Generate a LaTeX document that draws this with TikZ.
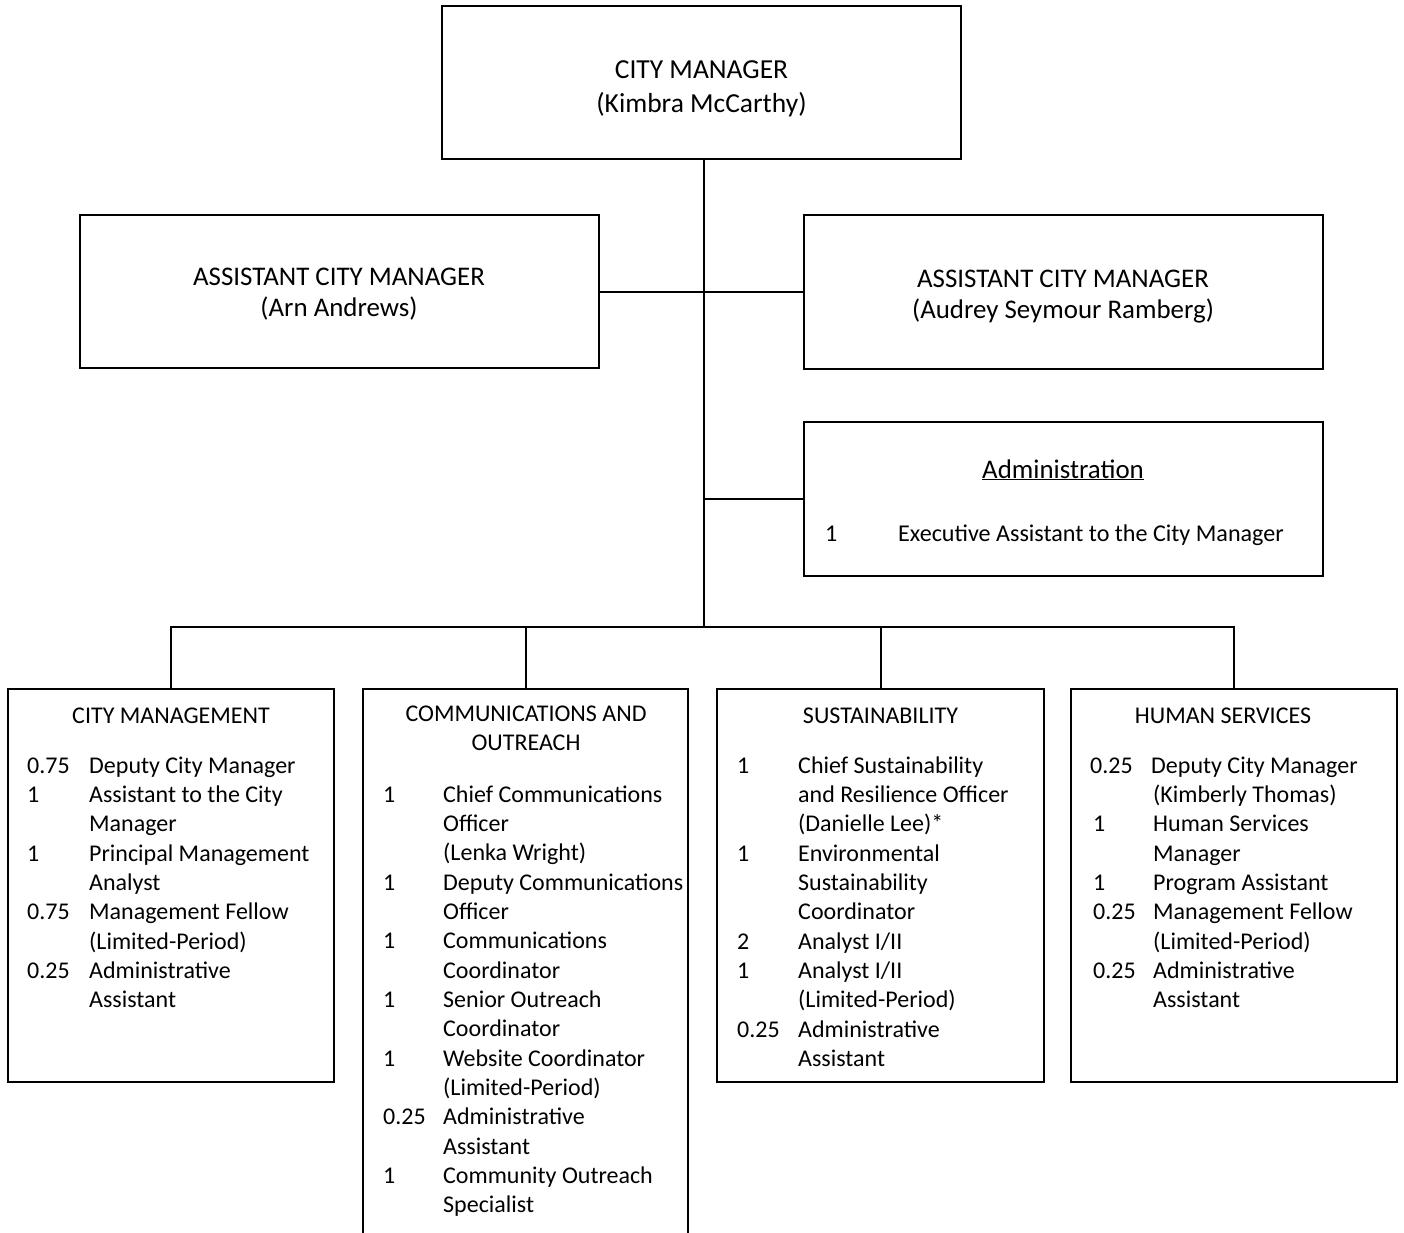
\documentclass[tikz,border=0pt]{standalone}
\usepackage{fontspec}
\setmainfont{Carlito}
\begin{document}
\begin{tikzpicture}[x=1pt,y=-1pt,
  box/.style={draw=black,line width=2pt,inner sep=0pt},
  conn/.style={draw=black,line width=2pt},
  big/.style={font=\fontsize{27.5}{34}\selectfont,inner sep=0pt,anchor=base},
  mid/.style={font=\fontsize{26.9}{32}\selectfont,inner sep=0pt,anchor=base},
  admrow/.style={font=\fontsize{24.1}{29.35}\selectfont,inner sep=0pt,anchor=base west},
  rowtxt/.style={font=\fontsize{24}{29.35}\selectfont,inner sep=0pt,anchor=base west},
  head/.style={font=\fontsize{24}{29.35}\selectfont,inner sep=0pt,anchor=base}]
\useasboundingbox (0,0) rectangle (1404,1232);
\newcommand\Row[6]{\node[rowtxt] (#1n) at (#2,#4) {#5};\node[rowtxt] (#1t) at (#3,#4) {#6};}
\newcommand\Cont[4]{\node[rowtxt] (#1) at (#2,#3) {#4};}
% boxes
\node[box,minimum width=519pt,minimum height=153pt] (cm) at (701.5,82.5) {};
\node[box,minimum width=519pt,minimum height=153pt] (acml) at (339.5,291) {};
\node[box,minimum width=519pt,minimum height=154pt] (acmr) at (1063.5,292) {};
\node[box,minimum width=519pt,minimum height=154pt] (adm) at (1063.5,499) {};
\node[box,minimum width=326pt,minimum height=393pt] (dcm) at (171,885.5) {};
\node[box,minimum width=325pt,minimum height=560pt] (dco) at (525.5,969) {};
\node[box,minimum width=327pt,minimum height=393pt] (dsu) at (880.5,885.5) {};
\node[box,minimum width=326pt,minimum height=393pt] (dhs) at (1234,885.5) {};
% connectors
\coordinate (jacm) at (704,292);
\coordinate (jadm) at (704,499);
\coordinate (bus) at (704,627);
\draw[conn] (cm.south -| jacm) -- (bus);
\draw[conn] (acml.east |- jacm) -- (acmr.west |- jacm);
\draw[conn] (jadm) -- (adm.west);
\draw[conn] (dcm.north) |- (bus) -| (dhs.north);
\draw[conn] (dco.north) -- (dco.north |- bus);
\draw[conn] (dsu.north) -- (dsu.north |- bus);
% top texts
\node[big] (cmt1) at (701.5,78) {CITY MANAGER};
\node[big] (cmt2) at (701.5,112) {(Kimbra McCarthy)};
\node[mid] (al1) at (339,285) {ASSISTANT CITY MANAGER};
\node[mid] (al2) at (339,316) {(Arn Andrews)};
\node[mid] (ar1) at (1063,287) {ASSISTANT CITY MANAGER};
\node[mid] (ar2) at (1063,318) {(Audrey Seymour Ramberg)};
\node[mid] (ad1) at (1063,478) {\underline{Administration}};
\node[admrow] (ad2n) at (825,541) {1};
\node[admrow] (ad2t) at (898,541) {Executive Assistant to the City Manager};
% City management
\node[head] (h1) at (171,723) {CITY MANAGEMENT};
\Row{a1}{27}{89}{773}{0.75}{Deputy City Manager}
\Row{a2}{27}{89}{802.35}{1}{Assistant to the City}
\Cont{a3}{89}{831.7}{Manager}
\Row{a4}{27}{89}{861.05}{1}{Principal Management}
\Cont{a5}{89}{890.4}{Analyst}
\Row{a6}{27}{89}{919.75}{0.75}{Management Fellow}
\Cont{a7}{89}{949.1}{(Limited-Period)}
\Row{a8}{27}{89}{978.45}{0.25}{Administrative}
\Cont{a9}{89}{1007.8}{Assistant}
% Communications
\node[head] (h2a) at (526,721) {COMMUNICATIONS AND};
\node[head] (h2b) at (526,750.35) {OUTREACH};
\Row{b1}{383}{443}{802}{1}{Chief Communications}
\Cont{b2}{443}{831.35}{Officer}
\Cont{b3}{443}{860.7}{(Lenka Wright)}
\Row{b4}{383}{443}{890.05}{1}{Deputy Communications}
\Cont{b5}{443}{919.4}{Officer}
\Row{b6}{383}{443}{948.75}{1}{Communications}
\Cont{b7}{443}{978.1}{Coordinator}
\Row{b8}{383}{443}{1007.45}{1}{Senior Outreach}
\Cont{b9}{443}{1036.8}{Coordinator}
\Row{b10}{383}{443}{1066.15}{1}{Website Coordinator}
\Cont{b11}{443}{1095.5}{(Limited-Period)}
\Row{b12}{383}{443}{1124.85}{0.25}{Administrative}
\Cont{b13}{443}{1154.2}{Assistant}
\Row{b14}{383}{443}{1183.55}{1}{Community Outreach}
\Cont{b15}{443}{1212.9}{Specialist}
% Sustainability
\node[head] (h3) at (880.5,723) {SUSTAINABILITY};
\Row{c1}{737}{798}{773}{1}{Chief Sustainability}
\Cont{c2}{798}{802.35}{and Resilience Officer}
\Cont{c3}{798}{831.7}{(Danielle Lee)*}
\Row{c4}{737}{798}{861.05}{1}{Environmental}
\Cont{c5}{798}{890.4}{Sustainability}
\Cont{c6}{798}{919.75}{Coordinator}
\Row{c7}{737}{798}{949.1}{2}{Analyst I/II}
\Row{c8}{737}{798}{978.45}{1}{Analyst I/II}
\Cont{c9}{798}{1007.8}{(Limited-Period)}
\Row{c10}{737}{798}{1037.15}{0.25}{Administrative}
\Cont{c11}{798}{1066.5}{Assistant}
% Human services
\node[head] (h4) at (1223,723) {HUMAN SERVICES};
\Row{d1}{1090}{1151}{773}{0.25}{Deputy City Manager}
\Cont{d2}{1153}{802.35}{(Kimberly Thomas)}
\Row{d3}{1093}{1153}{831.7}{1}{Human Services}
\Cont{d4}{1153}{861.05}{Manager}
\Row{d5}{1093}{1153}{890.4}{1}{Program Assistant}
\Row{d6}{1093}{1153}{919.75}{0.25}{Management Fellow}
\Cont{d7}{1153}{949.1}{(Limited-Period)}
\Row{d8}{1093}{1153}{978.45}{0.25}{Administrative}
\Cont{d9}{1153}{1007.8}{Assistant}
\end{tikzpicture}
\end{document}
